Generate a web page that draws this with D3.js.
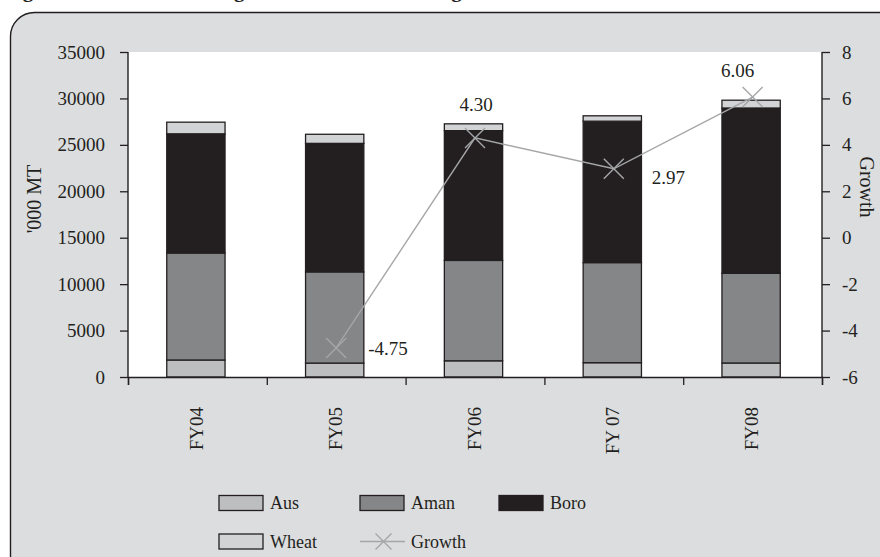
<!DOCTYPE html>
<html>
<head>
<meta charset="utf-8">
<script src="https://cdn.jsdelivr.net/npm/d3@7"></script>
<style>
  html, body { margin: 0; padding: 0; background: #ffffff; }
  svg { display: block; }
  text { font-family: "Liberation Serif", "Times New Roman", serif; fill: #231f20; }
</style>
</head>
<body>
<svg id="chart" width="880" height="557"></svg>
<script>
// Foodgrain production ('000 MT) by crop, and annual growth (%)
const categories = ["FY04", "FY05", "FY06", "FY 07", "FY08"];
const aus   = [1832, 1500, 1745, 1540, 1507];
const aman  = [11521, 9820, 10810, 10780, 9662];
const boro  = [12837, 13840, 13975, 15230, 17800];
const wheat = [1253, 980, 735, 580, 840];
const growth = [null, -4.75, 4.30, 2.97, 6.06];
const growthLabels = ["", "-4.75", "4.30", "2.97", "6.06"];
const leftTicks  = [0, 5000, 10000, 15000, 20000, 25000, 30000, 35000];
const rightTicks = [-6, -4, -2, 0, 2, 4, 6, 8];
const seriesNames = ["Aus", "Aman", "Boro", "Wheat"];

const colors = { Aus: "#bdbec0", Aman: "#858688", Boro: "#231f20", Wheat: "#d2d3d5" };
const ink = "#231f20";

const svg = d3.select("#chart");

// Frame
svg.append("rect").attr("x", 0).attr("y", 0).attr("width", 880).attr("height", 557).attr("fill", "#ffffff");
svg.append("rect")
  .attr("x", 10.5).attr("y", 12.5).attr("width", 920).attr("height", 570)
  .attr("rx", 24).attr("ry", 24)
  .attr("fill", "#dcdddf").attr("stroke", ink).attr("stroke-width", 1.4);

// Title (runs off the top edge; only its descenders remain in view)
svg.append("text")
  .attr("x", 4).attr("y", -3.5)
  .style("font-weight", "bold").style("font-size", "21px")
  .text("Figure 3.3: Trend of Foodgrain Production in Bangladesh");

const plot = { left: 128, right: 822, top: 52, bottom: 377 };

const x = d3.scaleBand().domain(categories)
  .range([plot.left, plot.right]).paddingInner(0.58).paddingOuter(0.29);
const yL = d3.scaleLinear().domain([0, 35000]).range([plot.bottom, plot.top]);
const yR = d3.scaleLinear().domain([-6, 8]).range([plot.bottom, plot.top]);

// Plot area
svg.append("rect")
  .attr("x", plot.left).attr("y", plot.top)
  .attr("width", plot.right - plot.left).attr("height", plot.bottom - plot.top)
  .attr("fill", "#ffffff");

// Stacked bars
const table = categories.map((c, i) => ({ cat: c, Aus: aus[i], Aman: aman[i], Boro: boro[i], Wheat: wheat[i] }));
const stack = d3.stack().keys(seriesNames)(table);
const bw = x.bandwidth();

svg.append("g").selectAll("g").data(stack).join("g")
  .attr("fill", d => colors[d.key])
  .selectAll("rect").data(d => d).join("rect")
  .attr("x", d => x(d.data.cat) - 1.5)
  .attr("y", d => yL(d[1]))
  .attr("width", bw)
  .attr("height", d => yL(d[0]) - yL(d[1]))
  .attr("stroke", ink).attr("stroke-width", 1.3);

// Axes (plain hyphen for negatives)
const fmt = d => String(d);
const fontSize = "19px";
const gL = svg.append("g").attr("transform", `translate(${plot.left},0)`)
  .call(d3.axisLeft(yL).tickValues(leftTicks).tickSize(8).tickPadding(15).tickFormat(fmt));
const gR = svg.append("g").attr("transform", `translate(${plot.right},0)`)
  .call(d3.axisRight(yR).tickValues(rightTicks).tickSize(8).tickPadding(12).tickFormat(fmt));
const xEdge = d3.scaleLinear().domain([0, categories.length]).range([plot.left, plot.right]);
const gB = svg.append("g").attr("transform", `translate(0,${plot.bottom})`)
  .call(d3.axisBottom(xEdge).tickValues(d3.range(categories.length + 1)).tickSize(8).tickFormat(""));

[gL, gR, gB].forEach(g => {
  g.select(".domain").attr("stroke", ink).attr("stroke-width", 1.4);
  g.selectAll(".tick line").attr("stroke", ink).attr("stroke-width", 1.3);
  g.selectAll(".tick text").style("font-size", fontSize).attr("fill", ink)
    .style("font-family", "'Liberation Serif', serif");
});
gL.select(".domain").attr("d", `M-0,${plot.bottom}V${plot.top}`);
gR.select(".domain").attr("d", `M0,${plot.bottom}V${plot.top}`);

// Category labels (rotated)
svg.append("g").selectAll("text").data(categories).join("text")
  .attr("transform", d => `translate(${x(d) + bw / 2 - 1},407) rotate(-90)`)
  .attr("text-anchor", "end").attr("dy", "0.35em")
  .style("font-size", fontSize)
  .text(d => d);

// Axis titles
svg.append("text")
  .attr("transform", "translate(34,199) rotate(-90)")
  .attr("text-anchor", "middle").attr("dy", "0.35em")
  .style("font-size", "20px")
  .text("'000 MT");
svg.append("text")
  .attr("transform", "translate(867,187) rotate(90)")
  .attr("text-anchor", "middle").attr("dy", "0.35em")
  .style("font-size", "20px")
  .text("Growth");

// Growth line with X markers
const lineColor = "#a5a6a8";
const pts = categories.map((c, i) => ({ cat: c, v: growth[i], label: growthLabels[i] }))
  .filter(d => d.v !== null);
const cx = d => x(d.cat) + bw / 2;

svg.append("path").datum(pts)
  .attr("fill", "none").attr("stroke", lineColor).attr("stroke-width", 1.4)
  .attr("d", d3.line().x(cx).y(d => yR(d.v)));

const m = 10;
svg.append("g").selectAll("path").data(pts).join("path")
  .attr("fill", "none").attr("stroke", lineColor).attr("stroke-width", 1.4)
  .attr("d", d => {
    const px = cx(d), py = yR(d.v);
    return `M${px - m},${py - m}L${px + m},${py + m}M${px - m},${py + m}L${px + m},${py - m}`;
  });

// Value labels: placement relative to each point
const labelPlace = [null, { dx: 32, dy: 7, anchor: "start" }, { dx: 1, dy: -27, anchor: "middle" },
  { dx: 38, dy: 15, anchor: "start" }, { dx: -15, dy: -20, anchor: "middle" }];
svg.append("g").selectAll("text").data(pts).join("text")
  .attr("x", d => cx(d) + labelPlace[categories.indexOf(d.cat)].dx)
  .attr("y", d => yR(d.v) + labelPlace[categories.indexOf(d.cat)].dy)
  .attr("text-anchor", d => labelPlace[categories.indexOf(d.cat)].anchor)
  .style("font-size", fontSize)
  .text(d => d.label);

// Legend
const legendItems = [
  { name: "Aus", type: "box", x: 219, y: 503 },
  { name: "Aman", type: "box", x: 360, y: 503 },
  { name: "Boro", type: "box", x: 499, y: 503 },
  { name: "Wheat", type: "box", x: 219, y: 541.5 },
  { name: "Growth", type: "line", x: 360, y: 541.5 }
];
const lg = svg.append("g").selectAll("g").data(legendItems).join("g")
  .attr("transform", d => `translate(${d.x},${d.y})`);
lg.filter(d => d.type === "box").append("rect")
  .attr("x", 0).attr("y", -7.5).attr("width", 44).attr("height", 15)
  .attr("fill", d => colors[d.name]).attr("stroke", ink).attr("stroke-width", 1.3);
const gl = lg.filter(d => d.type === "line");
gl.append("line").attr("x1", 0).attr("x2", 45).attr("y1", 0).attr("y2", 0)
  .attr("stroke", lineColor).attr("stroke-width", 1.4);
gl.append("path").attr("fill", "none").attr("stroke", lineColor).attr("stroke-width", 1.4)
  .attr("d", "M15.5,-8L31.5,8M15.5,8L31.5,-8");
lg.append("text")
  .attr("x", 51).attr("y", 0).attr("dy", "0.35em")
  .style("font-size", "18px")
  .text(d => d.name);
</script>
</body>
</html>
